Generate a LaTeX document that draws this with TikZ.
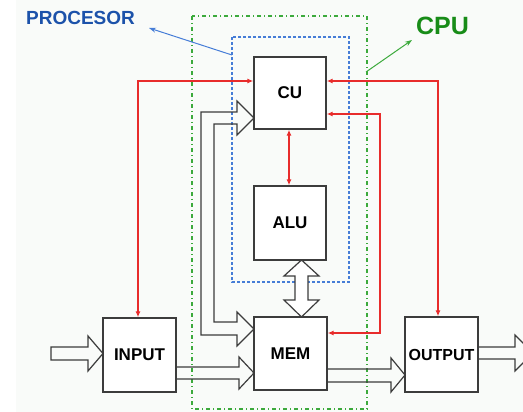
\documentclass[tikz,border=0pt]{standalone}
\usepackage{fontspec}
\setmainfont{Liberation Sans}
\usetikzlibrary{arrows.meta}
\definecolor{redln}{RGB}{232,44,44}
\definecolor{bluetxt}{RGB}{28,82,170}
\definecolor{blueln}{RGB}{70,125,215}
\definecolor{greentxt}{RGB}{24,140,24}
\definecolor{greenln}{RGB}{60,170,60}
\definecolor{boxln}{RGB}{60,60,60}
\definecolor{bgc}{RGB}{249,251,249}
\tikzset{
  unit/.style={draw=boxln, line width=1.4pt, fill=white, inner sep=0pt,
    font=\fontsize{17}{20}\selectfont\bfseries},
  redarr/.style={draw=redln, line width=1.1pt, {Latex[length=6pt,width=5pt]}-{Latex[length=6pt,width=5pt]}},
  fat/.style={draw=boxln, line width=1.2pt, line join=miter},
  cpubox/.style={draw=greenln, line width=1.2pt, dash pattern=on 4pt off 3pt on 1pt off 3pt},
  procbox/.style={draw=blueln, line width=1.2pt, dash pattern=on 3pt off 2pt},
}
\begin{document}
\begin{tikzpicture}[x=1pt,y=-1pt]
\useasboundingbox (0,0) rectangle (523,412);
\clip (0,0) rectangle (523,412);
\fill[bgc] (16,0) rectangle (523,412);

% dotted enclosures
\draw[cpubox] (192,16) rectangle (367,409);
\draw[procbox] (232,37) rectangle (349,282);

% labels
\node[text=bluetxt, font=\fontsize{19}{22}\selectfont\bfseries] (proc) at (80.5,18) {PROCESOR};
\node[text=greentxt, font=\fontsize{25}{28}\selectfont\bfseries] (cpu) at (442.5,26) {CPU};
\coordinate (pstart) at (232,55);
\coordinate (pend) at (149,28);
\coordinate (cstart) at (366,72);
\coordinate (cend) at (412,40);
\draw[blueln, line width=1pt, -{Stealth[length=7pt,width=5pt]}] (pstart) -- (pend);
\draw[greenln, line width=1pt, -{Stealth[length=7pt,width=5pt]}] (cstart) -- (cend);

% units
\node[unit, minimum width=72pt, minimum height=72pt] (CU) at (290,93) {CU};
\node[unit, minimum width=72pt, minimum height=74pt] (ALU) at (290,223) {ALU};
\node[unit, minimum width=73pt, minimum height=73pt] (MEM) at (290.5,353.5) {MEM};
\node[unit, minimum width=73pt, minimum height=74pt] (INPUT) at (139.5,355) {INPUT};
\node[unit, minimum width=73pt, minimum height=75pt, font=\fontsize{16}{19}\selectfont\bfseries] (OUTPUT) at (441.5,354.5) {OUTPUT};

% red control lines
\coordinate (l1) at (138,81);
\coordinate (r1) at (438,81);
\coordinate (r2) at (380,114);
\coordinate (r3) at (380,333);
\draw[redarr] (CU.west |- l1) -- (l1) -- (INPUT.north -| l1);
\draw[redarr] (CU.east |- r1) -- (r1) -- (OUTPUT.north -| r1);
\draw[redarr] (CU.east |- r2) -- (r2) -- (r3) -- (MEM.east |- r3);
\draw[redarr] ([xshift=-1pt]CU.south) -- ([xshift=-1pt]ALU.north);

% fat arrows
% MEM <-> CU (U-shaped bus)
\draw[fat] (254,118) -- (237,135) -- (237,124) -- (214,124) -- (214,322) -- (237,322)
  -- (237,312) -- (254,329) -- (237,346) -- (237,335) -- (201,335) -- (201,112)
  -- (237,112) -- (237,101) -- cycle;
% ALU <-> MEM
\draw[fat, fill=white] (301.5,260) -- (319,276) -- (308,276) -- (308,300) -- (319,300)
  -- (301.5,317) -- (284,300) -- (295,300) -- (295,276) -- (284,276) -- cycle;
% INPUT -> MEM
\draw[fat] (INPUT.east |- 0,367) -- (239,367) -- (239,357) -- (254,373) -- (239,389)
  -- (239,379) -- (INPUT.east |- 0,379);
% MEM -> OUTPUT
\draw[fat] (MEM.east |- 0,369) -- (391,369) -- (391,358) -- (405,375) -- (391,392)
  -- (391,382) -- (MEM.east |- 0,382);
% into INPUT
\draw[fat] (51,347) -- (88,347) -- (88,336) -- (103,353.5) -- (88,371) -- (88,360)
  -- (51,360) -- cycle;
% out of OUTPUT
\draw[fat] (OUTPUT.east |- 0,347) -- (515,347) -- (515,335) -- (533,353) -- (515,371)
  -- (515,359) -- (OUTPUT.east |- 0,359);
\end{tikzpicture}
\end{document}
